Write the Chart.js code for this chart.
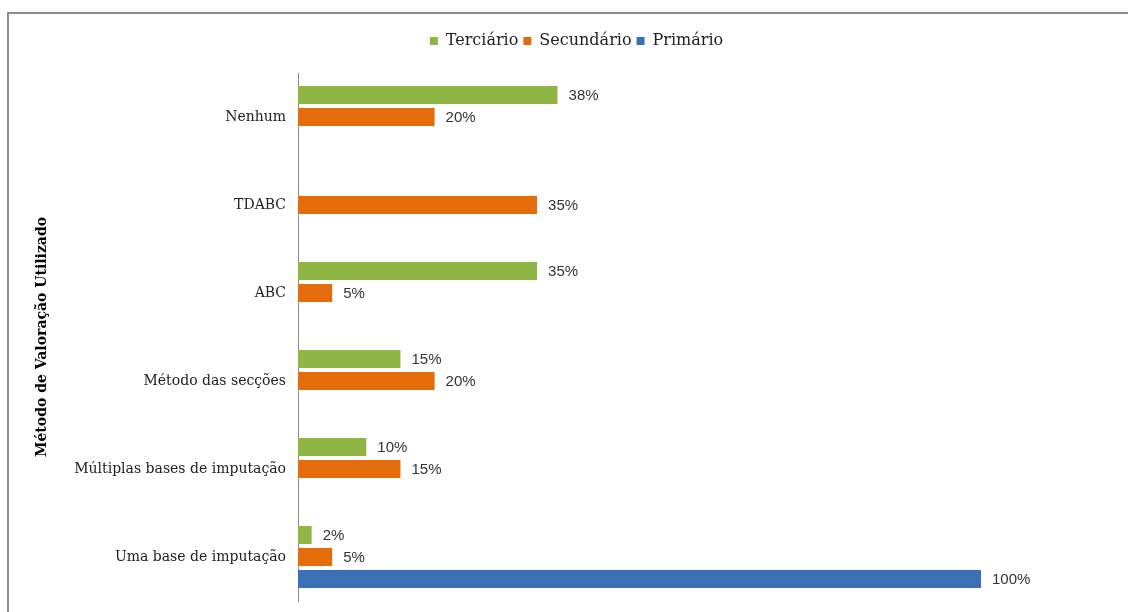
<!DOCTYPE html>
<html>
<head>
<meta charset="utf-8">
<script src="https://cdn.jsdelivr.net/npm/chart.js@4"></script>
<style>
  html, body { margin: 0; padding: 0; background: #fff; overflow: hidden; }
  #frame {
    position: absolute; left: 7px; top: 12px;
    width: 1200px; height: 700px;
    border: 2px solid #8c8c8c;
  }
  #wrap { position: absolute; left: 0; top: 0; width: 1128px; height: 612px; }
</style>
</head>
<body>
<div id="frame"></div>
<div id="wrap"><canvas id="chart" width="1128" height="612"></canvas></div>
<script>
// categories, top to bottom
const categories = ['Nenhum', 'TDABC', 'ABC', 'Método das secções', 'Múltiplas bases de imputação', 'Uma base de imputação'];

// series values (%), null where no bar
const terciario  = [38, null, 35, 15, 10, 2];
const secundario = [20, 35, 5, 20, 15, 5];
const primario   = [null, null, null, null, null, 100];

const serif = 'DejaVu Serif';

// percentage labels at the end of each bar
const barLabels = {
    id: 'barLabels',
    afterDatasetsDraw(chart) {
        const ctx = chart.ctx;
        ctx.save();
        ctx.font = '15px "Liberation Sans"';
        ctx.fillStyle = '#333';
        ctx.textBaseline = 'middle';
        chart.data.datasets.forEach((ds, i) => {
            chart.getDatasetMeta(i).data.forEach((bar, j) => {
                const v = ds.data[j];
                if (v == null) return;
                ctx.fillText(v + '%', bar.x + 11, bar.y + 1);
            });
        });
        ctx.restore();
    }
};

// move the legend a bit right, like in the original
const legendShift = {
    id: 'legendShift',
    afterLayout(chart) {
        chart.legend.left += 86;
        chart.legend.right += 86;
    }
};

new Chart(document.getElementById('chart'), {
    type: 'bar',
    data: {
        labels: categories,
        datasets: [
            { label: 'Terciário', data: terciario, backgroundColor: '#8db645' },
            { label: 'Secundário', data: secundario, backgroundColor: '#e46c0a' },
            { label: 'Primário', data: primario, backgroundColor: '#3b6fb6' }
        ]
    },
    options: {
        indexAxis: 'y',
        responsive: false,
        animation: false,
        datasets: {
            bar: { categoryPercentage: 0.75, barPercentage: 0.82 }
        },
        layout: { padding: { top: 28, right: 147, bottom: 11, left: 0 } },
        plugins: {
            tooltip: { enabled: false },
            legend: {
                position: 'top',
                labels: {
                    boxWidth: 8,
                    boxHeight: 8,
                    padding: 5,
                    color: '#222',
                    font: { family: serif, size: 16 }
                }
            }
        },
        scales: {
            x: {
                position: 'top',
                min: 0,
                max: 100,
                ticks: { display: false },
                grid: { display: false },
                border: { display: false },
                afterFit(scale) { scale.height = 14; }
            },
            y: {
                grid: { display: false, drawTicks: false },
                border: { display: true, color: '#8a8a8a', width: 1 },
                ticks: {
                    color: '#222',
                    padding: 12,
                    font: { family: serif, size: 14 }
                },
                title: {
                    display: true,
                    text: 'Método de Valoração Utilizado',
                    color: '#000',
                    font: { family: serif, size: 14, weight: 'bold' },
                    padding: { top: 34, bottom: 0 }
                },
                afterFit(scale) {
                    scale.width = 298;
                    scale.paddingTop = 0;
                    scale.paddingBottom = 0;
                }
            }
        }
    },
    plugins: [barLabels, legendShift]
});
</script>
</body>
</html>
